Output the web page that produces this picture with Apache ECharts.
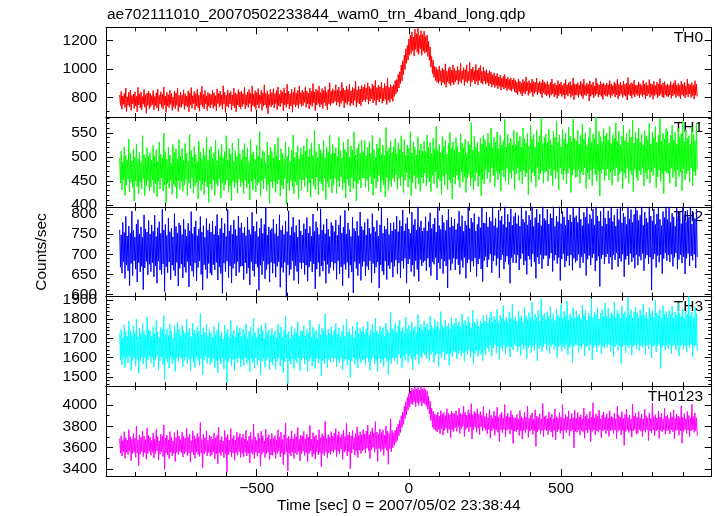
<!DOCTYPE html>
<html><head><meta charset="utf-8">
<script src="https://cdn.jsdelivr.net/npm/echarts@6/dist/echarts.min.js"></script>
<style>html,body{margin:0;padding:0;background:#fff}#c{width:717px;height:516px}</style>
</head><body><div id="c"></div><script>
// time bins (sec from 2007/05/02 23:38:44): arrays "A" start at tStart, arrays "B" are the in-between bins
const tStart = -950, tStep = 5;

const th0 = [
817,842,809,828,866,804,836,851,813,823,840,808,871,825,838,806,856,819,831,845,
829,812,848,806,833,859,815,840,822,874,809,836,818,851,826,803,845,831,864,814,
838,816,853,825,809,847,831,869,812,842,827,857,815,836,878,820,849,811,834,826,
821,849,833,812,860,827,845,818,882,836,815,853,829,841,817,866,832,822,856,838,
844,826,870,819,838,855,829,881,823,847,835,862,818,851,832,889,828,846,821,858,
833,861,827,848,874,822,852,839,866,830,893,843,825,857,836,870,829,849,881,834,
851,836,872,845,829,866,842,897,838,858,847,880,834,862,849,875,839,855,904,846,
861,848,889,853,873,843,905,866,851,880,857,893,846,870,862,914,852,877,859,884,
872,891,866,903,877,861,895,882,921,869,887,874,908,865,898,880,935,871,890,876,
889,918,926,962,981,1029,1058,1097,1144,1167,1213,1239,1262,1227,1281,1249,1290,1236,1270,1244,
1268,1232,1241,1196,1157,1088,1062,1019,1011,996,1021,989,1008,994,1037,985,1004,1016,991,1029,
1003,988,1021,994,1040,987,1010,996,1029,982,1047,999,1014,989,1033,992,1008,1025,984,1013,
985,996,972,989,978,960,974,951,968,944,957,936,949,961,930,942,927,938,923,935,
920,908,931,914,903,926,911,945,905,918,900,929,912,906,936,899,915,903,924,909,
897,912,889,905,930,893,901,887,919,895,908,884,899,926,890,903,911,886,938,896,
893,905,888,914,896,929,885,901,892,917,890,908,881,935,897,889,912,894,903,887,
902,889,918,895,884,909,897,928,891,906,887,915,893,901,940,889,904,896,921,885,
888,910,896,884,919,893,905,886,926,898,890,913,883,907,895,932,889,902,911,887,
895,885,912,890,903,920,887,898,884,915,892,906,881,929,896,889,904,886,917,893
];
const th0B = [
742,716,751,729,701,745,734,708,755,722,739,697,748,725,713,752,731,688,744,720,
735,749,712,741,726,703,752,730,718,745,693,738,727,750,709,736,721,744,700,733,
728,751,715,740,734,697,745,722,757,711,739,726,702,748,731,718,754,707,737,725,
749,722,738,705,756,731,744,716,752,693,737,729,753,711,742,725,698,746,733,719,
736,752,718,743,729,756,700,741,732,715,749,724,757,708,738,746,722,684,744,731,
748,725,756,712,741,733,759,703,746,729,752,718,739,695,750,731,744,722,755,736,
742,765,729,754,718,748,736,761,706,745,757,731,750,722,763,739,711,752,741,758,
759,771,744,766,733,757,775,726,762,749,770,738,758,745,779,731,764,753,740,768,
781,769,786,752,774,790,761,779,744,784,767,791,758,775,786,749,780,765,789,771,
806,824,838,866,897,917,962,996,1041,1064,1098,1111,1127,1092,1139,1118,1104,1143,1097,1126,
1112,1121,1089,1062,1014,968,941,919,907,898,913,885,904,892,871,909,896,883,906,889,
907,921,892,915,899,926,884,912,903,918,878,909,922,895,914,887,920,901,893,916,
893,904,881,897,872,889,869,884,861,878,852,873,858,869,846,862,851,843,859,838,
832,819,841,826,810,835,822,844,813,829,838,805,827,840,817,833,824,798,831,820,
809,821,797,815,826,803,818,792,812,824,806,817,789,820,808,827,801,814,783,816,
815,799,822,808,791,818,811,826,774,807,820,796,813,824,802,817,806,785,821,809,
806,819,795,813,824,802,817,788,810,822,799,815,807,781,820,811,794,818,803,823,
812,798,820,805,817,791,809,824,801,815,786,813,820,797,810,822,804,795,818,807,
803,816,792,811,822,798,814,806,789,819,808,795,817,802,824,799,812,787,815,805
];

const th1 = [
497,512,489,521,503,494,537,508,491,516,500,527,495,510,488,544,505,498,519,502,
509,493,524,501,515,490,531,506,498,550,511,495,520,504,487,526,509,517,496,536,
501,518,494,528,507,491,547,513,499,522,505,489,533,510,496,519,503,541,493,515,
521,497,509,535,492,516,503,526,498,511,544,494,518,506,529,490,513,501,538,507,
494,515,528,500,519,489,537,506,511,495,524,502,553,497,513,509,488,531,504,520,
512,498,526,503,540,493,517,508,495,531,501,521,490,514,546,499,509,523,496,518,
505,523,512,538,500,517,529,503,556,511,498,527,515,507,534,499,520,510,545,506,
526,508,519,502,541,513,497,531,516,509,537,500,523,514,552,504,518,529,507,535,
511,534,502,520,530,507,545,515,499,527,518,540,506,524,503,561,512,519,532,509,
521,538,507,529,516,544,510,536,503,525,518,553,508,531,520,504,542,514,527,512,
533,511,546,520,530,507,539,517,564,513,526,509,542,522,535,506,528,551,518,531,
515,540,523,510,548,529,519,537,506,532,525,571,514,543,520,530,511,539,527,545,
536,522,549,528,560,519,541,531,552,517,545,525,534,578,521,547,529,539,524,555,
526,551,533,543,520,560,538,529,549,523,565,536,547,520,556,531,544,582,528,540,
547,530,558,535,525,553,541,574,531,546,521,557,537,550,528,562,543,532,579,539,
533,556,527,545,569,536,550,523,540,561,530,548,538,583,526,553,542,531,559,544,
550,535,563,528,546,539,571,532,554,524,543,566,534,549,530,558,541,577,529,551,
538,560,531,547,524,555,543,536,570,527,552,540,563,530,545,581,533,549,537,559,
554,529,545,566,535,551,527,560,540,548,575,532,556,539,544,526,563,547,534,570
];
const th1B = [
446,431,452,420,441,455,427,448,436,408,450,438,423,447,433,454,419,440,451,429,
437,452,425,444,417,449,433,456,429,441,404,446,435,451,422,443,438,413,450,432,
449,428,441,453,419,445,434,456,424,439,447,412,451,430,443,421,448,437,405,444,
432,451,420,445,439,455,414,447,430,442,452,426,440,409,449,435,446,424,453,438,
447,423,452,436,444,410,449,431,454,427,441,446,418,450,433,455,429,442,403,448,
435,449,426,444,452,418,440,433,455,401,446,429,451,437,423,448,441,412,453,430,
452,438,457,427,446,416,454,440,432,458,421,449,443,429,456,411,448,436,453,425,
441,455,424,450,437,458,431,446,414,453,440,427,457,433,449,408,444,452,435,456,
456,437,451,428,459,444,420,454,435,448,461,426,452,441,416,457,430,449,438,455,
448,463,432,455,440,459,425,451,467,437,454,419,446,461,433,456,443,428,458,445,
466,439,456,448,428,461,444,469,435,454,450,421,459,441,465,431,452,446,412,458,
443,462,451,436,468,447,459,426,455,464,440,457,431,449,467,438,460,419,452,444,
474,455,468,446,477,461,438,470,452,465,429,472,458,449,476,442,466,455,471,431,
463,476,451,469,443,472,458,466,421,474,447,467,460,437,478,452,465,471,445,468,
470,449,475,461,440,473,455,468,431,477,464,452,471,444,466,476,426,462,473,456,
458,474,445,469,462,477,434,467,453,472,440,475,463,449,470,418,466,474,451,460,
475,452,468,441,473,460,477,448,464,470,433,466,456,476,445,471,462,428,474,457,
450,471,463,476,439,467,454,474,445,469,461,477,436,458,472,449,465,423,470,466,
466,445,476,457,470,437,473,459,468,429,475,452,464,471,447,477,440,469,461,474
];

const th2 = [
761,748,779,754,794,745,770,752,807,759,743,775,786,750,768,742,798,763,755,784,
750,773,757,797,744,766,781,752,812,760,774,747,790,756,765,743,801,769,753,778,
772,749,787,762,745,777,758,806,751,768,783,746,763,794,755,771,742,789,760,776,
755,782,749,770,799,747,764,790,753,776,744,811,758,772,750,785,762,746,795,766,
778,753,767,746,792,761,749,804,770,757,781,744,765,789,752,774,816,748,768,760,
764,787,751,775,745,798,760,771,749,783,756,808,747,768,792,754,772,743,786,758,
748,776,763,791,752,769,745,800,757,781,766,749,813,760,774,751,788,762,744,779,
771,756,785,747,773,796,753,767,809,750,778,761,744,792,764,757,782,746,805,769,
760,779,748,788,765,751,801,768,756,784,745,773,815,752,770,762,790,749,777,758,
779,762,795,756,784,770,810,758,776,791,763,752,805,773,787,760,818,768,783,757,
766,793,758,781,803,764,775,790,755,818,771,762,797,779,759,785,812,767,792,770,
788,761,776,807,769,796,757,783,772,818,764,790,779,801,758,774,793,766,815,778,
777,805,768,792,782,818,771,789,766,810,784,795,774,818,767,799,780,813,772,794,
803,776,796,770,818,787,779,808,773,797,785,818,769,791,812,778,800,771,818,789,
784,812,775,801,790,818,769,795,781,818,776,806,793,772,815,785,798,780,818,791,
796,779,818,787,771,804,792,818,776,799,788,812,773,818,795,782,807,770,818,790,
775,808,790,818,781,797,770,813,786,818,778,802,793,774,818,788,811,779,799,818,
809,784,797,818,772,805,790,779,818,795,783,812,774,800,818,787,771,806,791,818,
786,818,779,802,793,770,815,788,807,776,818,798,781,809,792,818,775,804,789,812
];
const th2B = [
668,653,681,640,674,659,622,677,647,684,663,631,679,656,670,612,666,682,649,675,
657,679,644,671,628,683,661,650,676,607,669,654,681,637,673,660,646,680,621,665,
676,641,668,655,682,619,672,658,645,679,634,667,683,650,611,674,662,640,677,653,
648,674,661,680,636,669,652,603,678,657,683,642,671,629,665,677,646,682,655,670,
671,637,679,652,666,624,681,659,645,676,668,610,673,649,683,639,662,675,631,680,
653,677,643,670,681,618,667,655,680,596,674,648,662,684,635,672,657,627,679,664,
679,650,673,633,668,682,656,676,614,663,680,645,671,658,684,628,675,652,667,681,
660,678,638,684,651,669,622,675,662,680,641,673,656,604,682,665,647,677,635,670,
682,646,670,661,684,629,677,653,668,681,616,674,658,649,683,637,672,664,680,643,
670,686,652,679,641,683,665,690,628,676,688,657,673,645,684,662,633,687,671,680,
684,659,690,668,647,681,675,692,636,679,664,688,652,683,671,616,687,660,677,690,
661,688,674,650,685,667,692,640,679,687,656,683,670,691,645,676,689,663,632,684,
694,668,687,701,654,683,697,672,690,641,686,699,663,681,695,675,628,692,679,700,
678,698,661,689,702,673,684,650,696,687,669,701,681,640,693,676,699,664,688,697,
697,671,690,703,657,685,698,677,692,635,688,701,668,683,696,672,699,660,690,680,
684,700,666,694,679,702,647,688,697,673,691,701,658,684,695,620,689,699,676,693,
701,677,693,662,698,686,703,669,690,682,700,644,687,696,674,702,681,692,665,699,
673,695,685,702,659,690,698,676,693,611,688,701,667,697,680,699,652,689,703,684,
698,681,700,670,692,703,663,687,699,678,694,651,690,702,671,696,685,700,666,693
];

const th3 = [
1725,1748,1703,1771,1736,1712,1790,1742,1719,1765,1731,1801,1708,1753,1727,1778,1740,1716,1812,1746,
1738,1710,1762,1725,1794,1733,1706,1757,1745,1820,1722,1750,1714,1776,1739,1701,1767,1730,1786,1748,
1715,1769,1741,1727,1799,1734,1752,1709,1780,1744,1723,1761,1737,1830,1718,1756,1731,1775,1711,1747,
1729,1706,1761,1718,1742,1784,1713,1734,1697,1770,1725,1749,1703,1793,1720,1741,1708,1764,1731,1756,
1712,1748,1724,1776,1700,1737,1759,1715,1806,1730,1705,1753,1722,1768,1741,1698,1781,1727,1744,1716,
1752,1719,1738,1701,1773,1728,1760,1707,1745,1815,1723,1736,1699,1764,1718,1750,1731,1788,1711,1740,
1735,1768,1714,1747,1726,1795,1705,1758,1730,1742,1702,1776,1721,1753,1738,1827,1716,1749,1728,1762,
1716,1744,1779,1723,1755,1707,1737,1770,1713,1801,1731,1748,1719,1763,1704,1741,1786,1726,1752,1734,
1762,1728,1749,1788,1717,1743,1772,1731,1806,1740,1724,1765,1735,1757,1711,1780,1745,1729,1834,1751,
1741,1779,1733,1766,1795,1739,1757,1728,1811,1751,1770,1736,1786,1747,1762,1731,1824,1756,1773,1744,
1792,1758,1777,1745,1816,1767,1752,1799,1761,1784,1748,1839,1770,1756,1793,1763,1780,1751,1808,1772,
1779,1805,1766,1788,1760,1827,1776,1794,1768,1812,1783,1757,1846,1785,1773,1801,1764,1792,1778,1820,
1790,1824,1781,1808,1839,1786,1815,1798,1852,1784,1819,1802,1871,1793,1810,1787,1836,1804,1880,1795,
1812,1791,1843,1806,1820,1785,1862,1816,1799,1834,1808,1889,1794,1827,1811,1847,1789,1905,1818,1832,
1797,1838,1814,1866,1801,1829,1792,1851,1822,1809,1876,1803,1841,1817,1895,1799,1828,1812,1859,1806,
1843,1809,1826,1802,1872,1819,1847,1796,1833,1815,1907,1808,1838,1824,1861,1800,1831,1851,1811,1884,
1816,1857,1805,1834,1821,1890,1812,1845,1829,1803,1868,1826,1840,1810,1916,1823,1849,1807,1836,1863,
1831,1808,1849,1822,1878,1815,1836,1802,1860,1827,1843,1811,1899,1833,1818,1852,1806,1871,1825,1840,
1811,1846,1825,1869,1807,1838,1820,1885,1830,1814,1853,1803,1842,1826,1918,1817,1837,1809,1862,1829
];
const th3B = [
1588,1562,1603,1547,1596,1571,1609,1535,1584,1600,1556,1592,1519,1580,1605,1566,1598,1542,1587,1607,
1572,1599,1551,1590,1610,1537,1583,1603,1564,1486,1595,1576,1545,1601,1569,1588,1528,1597,1578,1606,
1596,1553,1585,1604,1567,1591,1530,1599,1576,1548,1602,1583,1559,1594,1512,1587,1606,1570,1598,1563,
1575,1596,1548,1583,1522,1591,1567,1599,1540,1586,1470,1578,1597,1556,1589,1530,1594,1573,1600,1551,
1590,1557,1598,1569,1587,1526,1594,1574,1545,1599,1563,1588,1510,1581,1596,1550,1585,1600,1537,1578,
1563,1593,1539,1581,1600,1554,1589,1521,1577,1597,1462,1584,1566,1595,1543,1590,1572,1599,1531,1586,
1598,1566,1590,1528,1585,1599,1557,1580,1543,1596,1571,1591,1507,1583,1568,1597,1549,1588,1575,1600,
1579,1597,1551,1589,1572,1600,1536,1584,1594,1560,1588,1497,1582,1599,1565,1591,1546,1596,1574,1587,
1593,1561,1598,1577,1534,1589,1600,1567,1585,1528,1596,1574,1591,1552,1599,1580,1513,1590,1569,1597,
1583,1601,1568,1615,1597,1548,1608,1586,1621,1574,1612,1593,1537,1604,1589,1618,1565,1609,1597,1626,
1612,1596,1627,1581,1616,1630,1572,1609,1623,1553,1619,1600,1632,1589,1614,1625,1561,1620,1606,1633,
1628,1593,1619,1637,1607,1625,1579,1632,1614,1641,1600,1629,1566,1621,1636,1605,1633,1617,1585,1639,
1615,1651,1632,1664,1607,1648,1669,1625,1657,1590,1653,1636,1665,1618,1650,1659,1603,1656,1640,1668,
1660,1629,1655,1611,1667,1642,1662,1595,1651,1665,1624,1658,1637,1669,1582,1648,1663,1631,1656,1670,
1638,1666,1621,1658,1670,1643,1661,1600,1654,1668,1632,1659,1647,1669,1614,1652,1664,1575,1657,1667,
1665,1626,1660,1648,1669,1609,1656,1663,1637,1670,1588,1653,1666,1630,1661,1668,1619,1657,1649,1670,
1652,1668,1633,1662,1605,1657,1669,1640,1664,1570,1655,1667,1625,1660,1650,1669,1612,1658,1666,1644,
1669,1636,1660,1651,1668,1617,1662,1645,1670,1598,1658,1665,1630,1661,1669,1544,1653,1667,1639,1663,
1647,1666,1621,1659,1669,1639,1663,1610,1657,1668,1643,1661,1628,1667,1652,1670,1604,1660,1665,1635
];

const th0123 = [
3684,3712,3665,3749,3693,3671,3768,3702,3679,3730,3688,3801,3669,3721,3696,3757,3708,3675,3786,3714,
3698,3667,3735,3681,3771,3704,3662,3726,3710,3812,3689,3717,3672,3750,3700,3660,3741,3692,3764,3709,
3676,3744,3706,3687,3782,3697,3724,3665,3758,3712,3683,3733,3701,3836,3674,3728,3694,3755,3669,3715,
3705,3678,3739,3690,3716,3792,3673,3703,3661,3760,3696,3723,3668,3778,3685,3713,3670,3746,3699,3732,
3692,3727,3680,3763,3664,3708,3741,3675,3819,3701,3667,3736,3689,3756,3711,3663,3774,3694,3720,3677,
3733,3686,3712,3673,3766,3699,3745,3676,3721,3831,3690,3707,3681,3757,3684,3729,3703,3788,3679,3716,
3711,3752,3684,3725,3698,3809,3676,3740,3702,3718,3672,3768,3693,3731,3708,3846,3687,3722,3700,3749,
3707,3736,3779,3714,3751,3696,3725,3764,3703,3828,3718,3744,3710,3761,3693,3733,3795,3716,3748,3722,
3770,3730,3756,3812,3721,3751,3784,3737,3843,3747,3726,3776,3742,3766,3715,3803,3754,3733,3871,3760,
3739,3763,3791,3820,3857,3899,3934,3987,4031,4072,4108,4131,4157,4142,4170,4148,4166,4139,4172,4150,
4163,4144,4129,4081,4034,3968,3941,3915,3906,3933,3898,3947,3912,3928,3901,3964,3919,3908,3942,3924,
3918,3946,3903,3971,3925,3911,3989,3930,3904,3956,3921,4012,3909,3940,3926,3965,3915,3937,3902,3983,
3891,3924,3880,3956,3903,3876,3940,3897,3978,3885,3911,3932,3878,4004,3895,3921,3888,3947,3906,3883,
3879,3912,3868,3947,3890,3873,3931,3884,3991,3874,3903,3925,3866,3954,3895,3881,3918,3870,4012,3889,
3901,3871,3935,3882,3914,3869,3962,3891,3878,3926,3885,4003,3873,3909,3889,3944,3867,3920,3880,3951,
3876,3929,3888,3908,3866,3972,3894,3913,3871,3938,3883,4021,3879,3916,3898,3951,3869,3905,3932,3886,
3918,3874,3946,3893,3881,3924,3870,3989,3902,3886,3937,3875,3911,3960,3882,3905,3868,4009,3896,3921,
3883,3937,3877,3915,3869,3958,3899,3880,3926,3872,4015,3890,3909,3878,3943,3887,3921,3866,3967,3895,
3907,3872,3930,3889,3955,3875,3914,3896,3880,3992,3884,3919,3870,3939,3901,3877,4008,3892,3925,3879
];
const th0123B = [
3549,3521,3562,3498,3555,3533,3571,3479,3541,3558,3510,3547,3430,3538,3563,3515,3553,3491,3544,3566,
3528,3556,3503,3545,3569,3484,3539,3560,3517,3395,3552,3530,3496,3557,3524,3548,3470,3554,3534,3565,
3553,3511,3540,3562,3526,3549,3463,3557,3531,3501,3561,3537,3517,3550,3408,3543,3564,3522,3555,3519,
3532,3557,3494,3543,3449,3552,3524,3560,3505,3541,3372,3535,3558,3514,3548,3481,3554,3529,3561,3508,
3547,3516,3556,3522,3545,3458,3553,3536,3498,3559,3519,3549,3425,3538,3557,3506,3544,3562,3487,3532,
3528,3558,3499,3545,3566,3513,3552,3440,3537,3561,3383,3547,3521,3558,3497,3551,3534,3565,3476,3544,
3564,3527,3553,3468,3546,3569,3515,3541,3492,3560,3532,3555,3421,3544,3526,3563,3501,3550,3537,3568,
3552,3579,3514,3566,3541,3585,3489,3558,3572,3522,3563,3402,3549,3583,3530,3567,3506,3577,3544,3569,
3584,3549,3595,3567,3498,3581,3603,3556,3589,3471,3593,3562,3586,3527,3599,3573,3444,3590,3560,3598,
3622,3649,3668,3711,3742,3790,3818,3872,3906,3951,3981,4012,4003,4028,3985,4021,3996,4033,3990,4017,
4008,3989,3962,3915,3854,3793,3772,3761,3747,3769,3729,3778,3716,3762,3781,3738,3770,3693,3766,3751,
3786,3752,3794,3733,3778,3797,3705,3771,3789,3748,3792,3680,3767,3790,3743,3783,3721,3795,3757,3784,
3762,3731,3770,3689,3757,3773,3715,3764,3744,3656,3768,3739,3772,3702,3761,3774,3727,3765,3640,3755,
3749,3768,3713,3756,3679,3762,3740,3770,3695,3753,3766,3724,3759,3611,3748,3767,3730,3761,3702,3769,
3758,3722,3765,3745,3697,3762,3672,3750,3769,3733,3757,3681,3763,3741,3768,3709,3754,3764,3598,3752,
3743,3767,3716,3759,3748,3688,3763,3737,3769,3655,3751,3766,3720,3758,3744,3768,3693,3757,3765,3730,
3761,3705,3756,3768,3732,3764,3684,3752,3766,3719,3759,3621,3750,3767,3741,3762,3698,3756,3769,3726,
3735,3766,3752,3700,3763,3744,3769,3667,3757,3738,3765,3712,3754,3768,3686,3761,3747,3766,3725,3759,
3762,3727,3767,3749,3682,3759,3765,3716,3758,3640,3753,3768,3734,3763,3704,3757,3769,3743,3760,3711
];

// panel names
const bandNames = ['TH0', 'TH1', 'TH2', 'TH3', 'TH0123'];

// tick values
const xMajorTicks = [-500, 0, 500];
const xMinorTicks = [-900,-800,-700,-600,-400,-300,-200,-100,100,200,300,400,600,700,800,900];
const th0Major = [800, 1000, 1200];        const th0Minor = [700, 900, 1100];
const th1Major = [400, 450, 500, 550];     const th1Minor = [410,420,430,440,460,470,480,490,510,520,530,540,560,570,580];
const th2Major = [600, 650, 700, 750, 800]; const th2Minor = [610,620,630,640,660,670,680,690,710,720,730,740,760,770,780,790,810];
const th3Major = [1500, 1600, 1700, 1800, 1900]; const th3Minor = [1460,1480,1520,1540,1560,1580,1620,1640,1660,1680,1720,1740,1760,1780,1820,1840,1860,1880,1920];
const th0123Major = [3400, 3600, 3800, 4000]; const th0123Minor = [3500, 3700, 3900, 4100];

// axis extents
const xRange = [-995, 995];
const yRanges = [[661, 1295], [396, 583], [595, 818], [1451, 1918], [3334, 4175]];

const titleText = 'ae702111010_20070502233844_wam0_trn_4band_long.qdp';
const xTitle = 'Time [sec] 0 = 2007/05/02 23:38:44';
const yTitle = 'Counts/sec';

const panels = [
  {a: th0, b: th0B, color: '#ff0000', major: th0Major, minor: th0Minor},
  {a: th1, b: th1B, color: '#00ff00', major: th1Major, minor: th1Minor},
  {a: th2, b: th2B, color: '#0000ff', major: th2Major, minor: th2Minor},
  {a: th3, b: th3B, color: '#00ffff', major: th3Major, minor: th3Minor},
  {a: th0123, b: th0123B, color: '#ff00ff', major: th0123Major, minor: th0123Minor}
];

// merge the two interleaved sample sets into one time-ordered point list
function mergeBins(a, b) {
  const pts = [];
  a.forEach((v, k) => {
    pts.push([tStart + k * tStep, v]);
    if (k < b.length) pts.push([tStart + tStep / 2 + k * tStep, b[k]]);
  });
  return pts;
}

const FONT = '"Liberation Sans", Arial, Helvetica, sans-serif';
const FS = 15.5;
const gridTop = 27.3, gridH = 89.74, gridLeft = 106, gridRight = 5.3;

const grids = [], xAxes = [], yAxes = [], series = [], graphics = [];
const lineBlack = {color: '#000', width: 1};
const fmtNum = v => (v < 0 ? '\u2212' + Math.abs(v) : String(v));

panels.forEach((p, i) => {
  const top = gridTop + i * gridH;
  const last = i === panels.length - 1;
  grids.push({left: gridLeft, right: gridRight, top: top, height: gridH, show: false});
  const xb = {type: 'value', gridIndex: i, min: xRange[0], max: xRange[1], splitLine: {show: false}, splitArea: {show: false}};
  ['bottom', 'top'].forEach(pos => {
    xAxes.push(Object.assign({}, xb, {
      position: pos,
      axisLine: {show: true, onZero: false, lineStyle: lineBlack},
      axisTick: {show: true, inside: true, length: 7, customValues: xMajorTicks, lineStyle: lineBlack},
      axisLabel: (last && pos === 'bottom') ? {show: true, customValues: xMajorTicks, formatter: fmtNum, fontSize: FS, color: '#000', fontFamily: FONT, margin: 5} : {show: false}
    }));
    xAxes.push(Object.assign({}, xb, {
      position: pos,
      axisLine: {show: false, onZero: false},
      axisTick: {show: true, inside: true, length: 4, customValues: xMinorTicks, lineStyle: lineBlack},
      axisLabel: {show: false}
    }));
  });
  const yr = yRanges[i];
  const yb = {type: 'value', gridIndex: i, min: yr[0], max: yr[1], splitLine: {show: false}, splitArea: {show: false}, scale: true};
  ['left', 'right'].forEach(pos => {
    yAxes.push(Object.assign({}, yb, {
      position: pos,
      axisLine: {show: true, onZero: false, lineStyle: lineBlack},
      axisTick: {show: true, inside: true, length: 7, customValues: p.major, lineStyle: lineBlack},
      axisLabel: pos === 'left' ? {show: true, customValues: p.major, formatter: fmtNum, fontSize: FS, color: '#000', fontFamily: FONT, margin: 9} : {show: false}
    }));
    yAxes.push(Object.assign({}, yb, {
      position: pos,
      axisLine: {show: false, onZero: false},
      axisTick: {show: true, inside: true, length: 3.5, customValues: p.minor, lineStyle: lineBlack},
      axisLabel: {show: false}
    }));
  });
  series.push({
    type: 'line', xAxisIndex: 4 * i, yAxisIndex: 4 * i,
    data: mergeBins(p.a, p.b),
    showSymbol: false, symbol: 'none', silent: true, clip: true, sampling: null,
    lineStyle: {color: p.color, width: 1}, itemStyle: {color: p.color}
  });
  graphics.push({type: 'text', x: 703, y: top + 10.2, silent: true,
    style: {text: bandNames[i], fill: '#000', font: FS + 'px ' + FONT, textAlign: 'right', textVerticalAlign: 'middle'}});
});

graphics.push({type: 'text', x: 107, y: 15, silent: true,
  style: {text: titleText, fill: '#000', font: FS + 'px ' + FONT, textAlign: 'left', textVerticalAlign: 'middle'}});
graphics.push({type: 'text', x: 277, y: 506, silent: true,
  style: {text: xTitle, fill: '#000', font: FS + 'px ' + FONT, textAlign: 'left', textVerticalAlign: 'middle'}});
graphics.push({type: 'text', x: 42, y: 252, rotation: Math.PI / 2, silent: true,
  style: {text: yTitle, fill: '#000', font: FS + 'px ' + FONT, textAlign: 'center', textVerticalAlign: 'middle'}});

const chart = echarts.init(document.getElementById('c'), null, {renderer: 'canvas'});
chart.setOption({
  animation: false,
  backgroundColor: '#fff',
  grid: grids, xAxis: xAxes, yAxis: yAxes, series: series, graphic: graphics
});
</script></body></html>
